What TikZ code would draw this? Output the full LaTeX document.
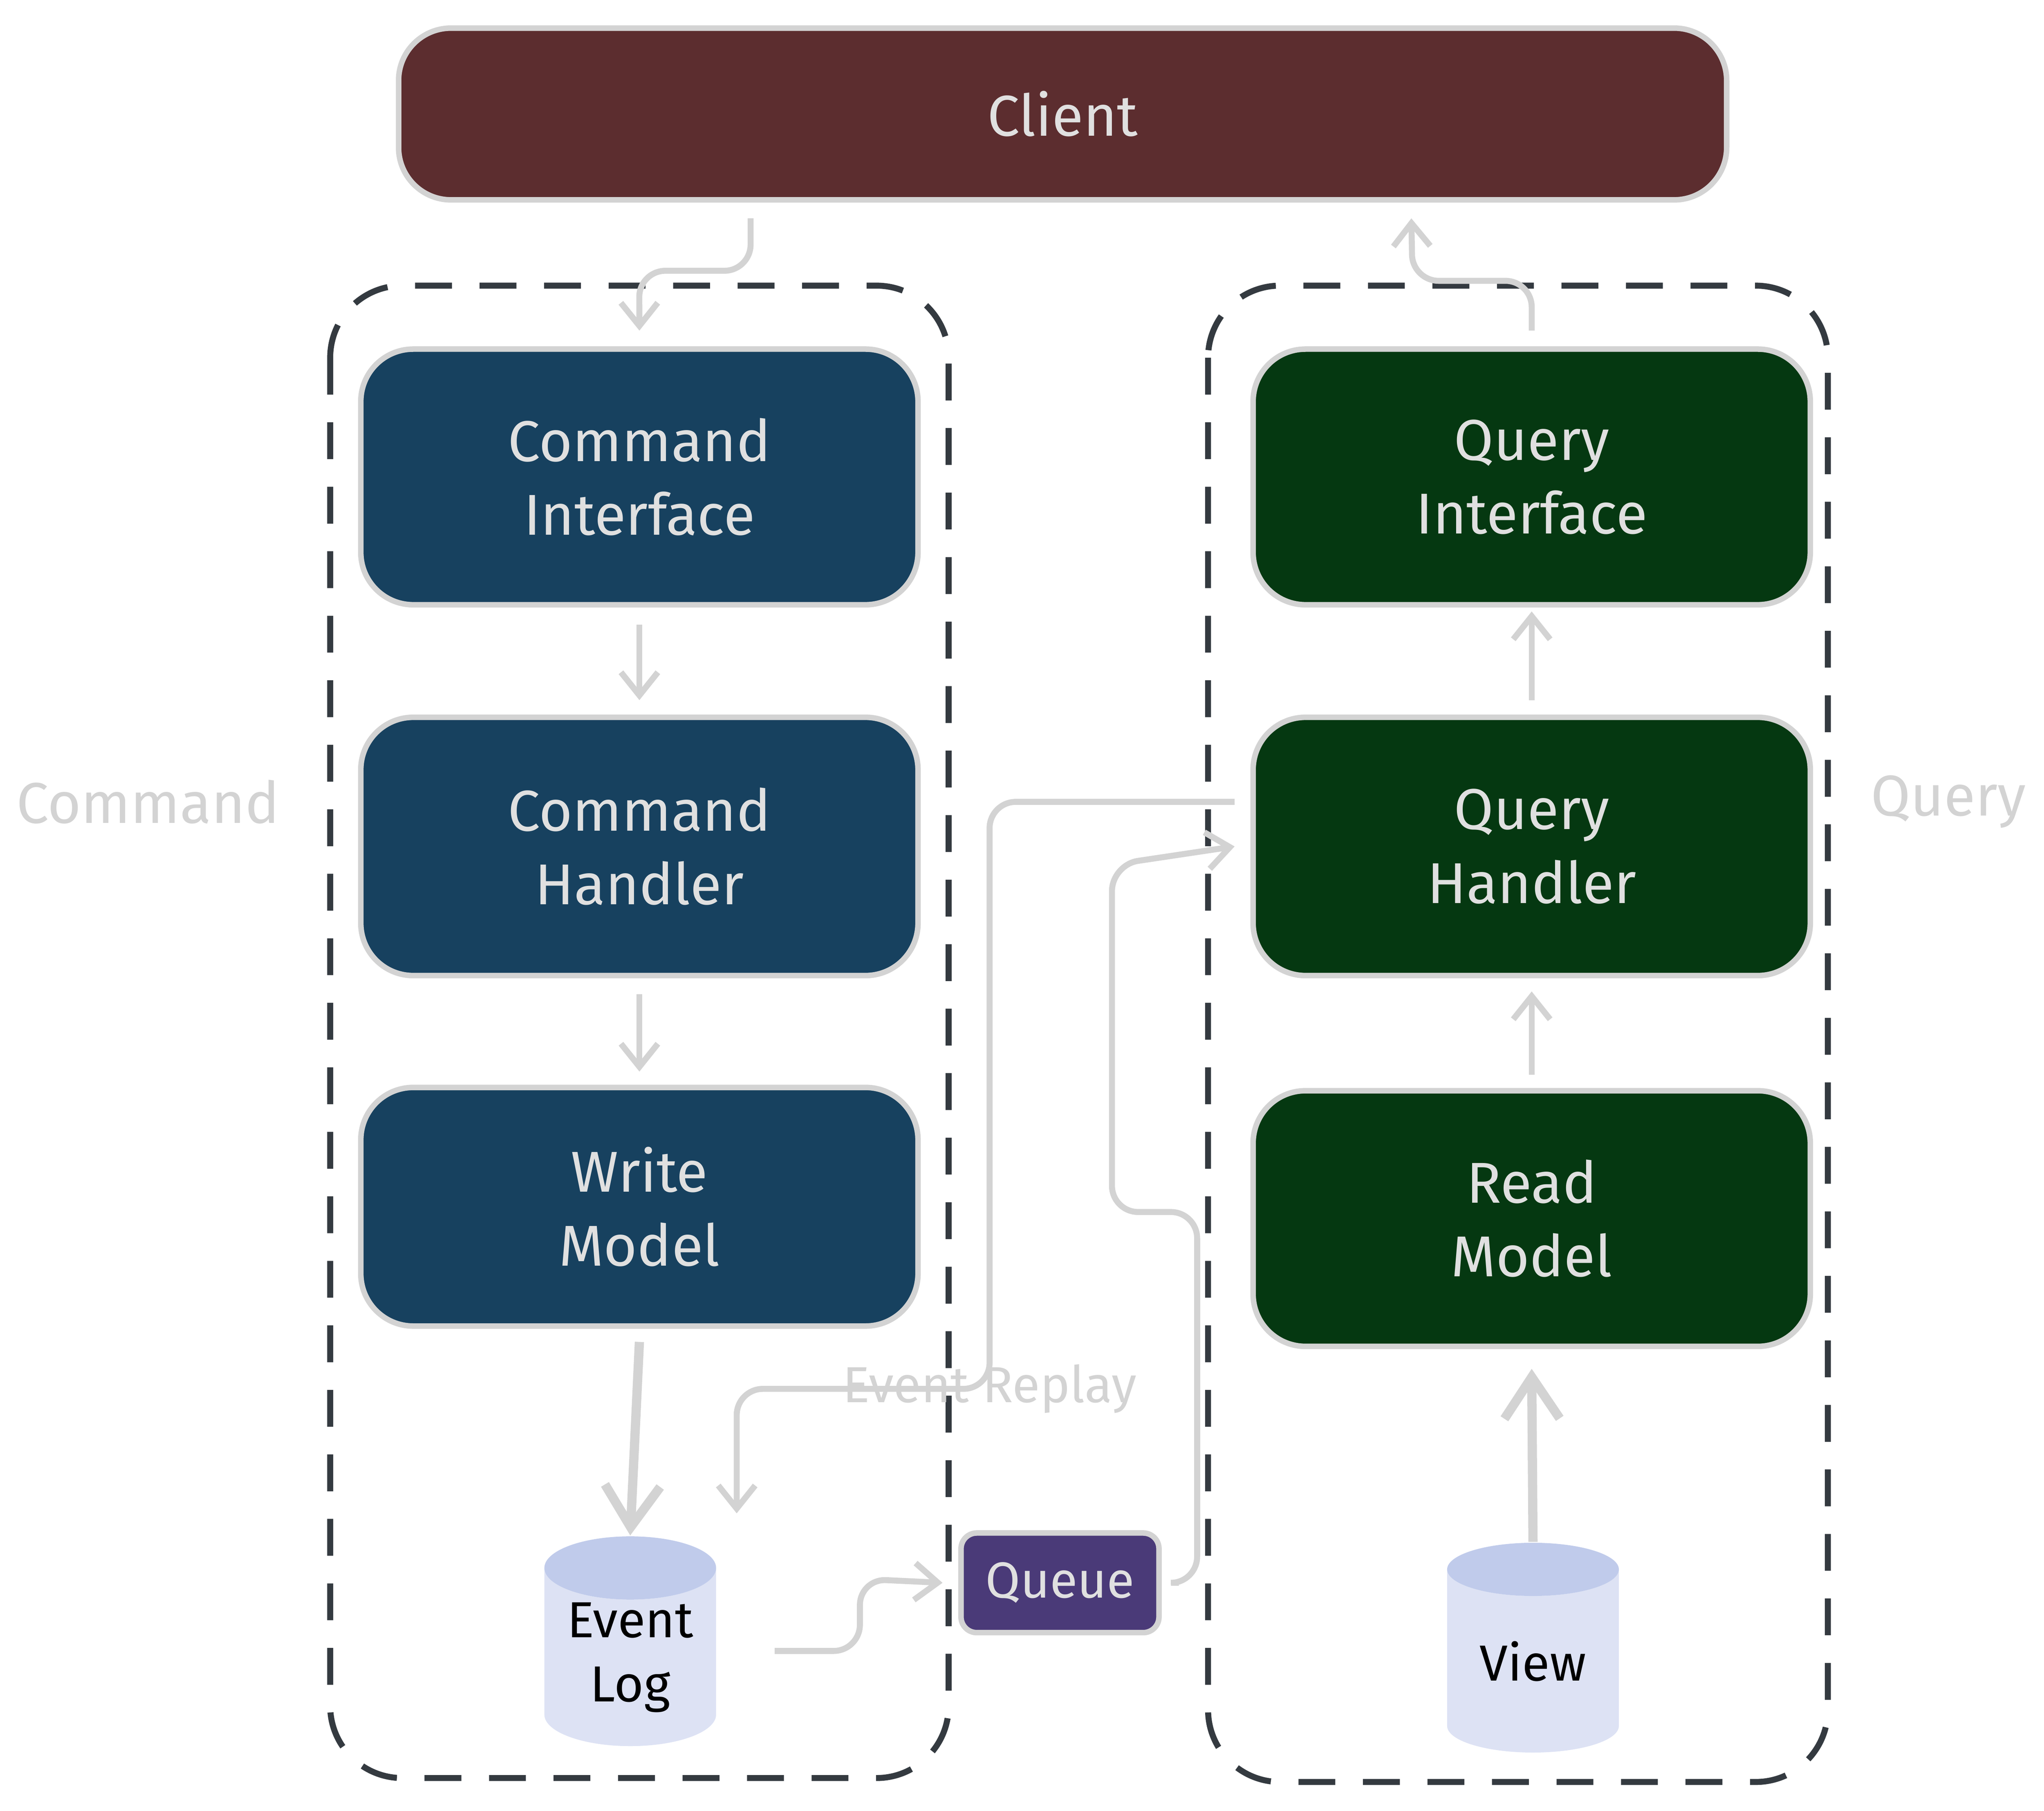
\documentclass[tikz,border=0pt]{standalone}
\usepackage{fontspec}
\setmainfont{Fira Sans}
\usetikzlibrary{shapes.geometric,arrows.meta,positioning}
\definecolor{clientc}{HTML}{5C2D2F}
\definecolor{cmdc}{HTML}{17415F}
\definecolor{qryc}{HTML}{053811}
\definecolor{queuec}{HTML}{4A3A78}
\definecolor{edgec}{HTML}{D3D3D3}
\definecolor{cyltop}{HTML}{C0CBEB}
\definecolor{cylbody}{HTML}{DDE2F4}
\definecolor{dashc}{HTML}{343A40}
\begin{document}
\begin{tikzpicture}[x=0.01cm,y=-0.01cm,
    box/.style={draw=edgec,line width=1.2pt,rounded corners=0.4cm,minimum width=4.25cm,minimum height=1.95cm,align=center,text=white!88!black,font=\fontsize{12.5}{16}\selectfont},
    group/.style={draw=dashc,line width=1.3pt,dash pattern=on 8pt off 6pt,rounded corners=0.55cm},
    flow/.style={draw=edgec,line width=1.3pt,-{Straight Barb[length=5pt,width=8pt]},rounded corners=0.2cm},
    store/.style={cylinder,shape border rotate=90,aspect=0.5,draw=none,inner sep=0pt,cylinder uses custom fill,cylinder body fill=cylbody,cylinder end fill=cyltop,minimum width=1.31cm,minimum height=1.6cm,align=center,font=\fontsize{11}{14}\selectfont},
    side/.style={text=edgec,font=\fontsize{12.5}{16}\selectfont}]
  \useasboundingbox (0,0) rectangle (1560,1382);
  % groups
  \draw[group] (252,218) rectangle (724,1357);
  \draw[group] (922,218) rectangle (1395,1360);
  \node[side] (cmdlab) at (113,612) {Command};
  \node[side] (qrylab) at (1487,612) {Query};
  % client
  \node[box,fill=clientc,minimum width=10.13cm,minimum height=1.31cm] (client) at (811,87) {Client};
  % command side
  \node[box,fill=cmdc] (ci) at (488,364) {Command\\Interface};
  \node[box,fill=cmdc,minimum height=1.97cm] (ch) at (488,646) {Command\\Handler};
  \node[box,fill=cmdc,minimum height=1.82cm] (wm) at (488,921) {Write\\Model};
  \node[store] (log) at (481,1265) {Event\\Log};
  % query side
  \node[box,fill=qryc] (qi) at (1169,364) {Query\\Interface};
  \node[box,fill=qryc,minimum height=1.97cm] (qh) at (1169,646) {Query\\Handler};
  \node[box,fill=qryc] (rm) at (1169,930) {Read\\Model};
  \node[store] (view) at (1170,1268) {View};
  \node[box,fill=queuec,minimum width=1.51cm,minimum height=0.76cm,rounded corners=0.12cm,font=\fontsize{11}{14}\selectfont] (queue) at (809,1208) {Queue};
  % connectors
  \draw[flow] ([xshift=-2.38cm,yshift=-0.12cm]client.south) -- ++(0,40) -- ++(-85,0) -- ([yshift=0.12cm]ci.north);
  \draw[flow] ([yshift=-0.13cm]ci.south) -- ([yshift=0.11cm]ch.north);
  \draw[flow] ([yshift=-0.12cm]ch.south) -- ([yshift=0.1cm]wm.north);
  \draw[flow,line width=2pt,-{Straight Barb[length=9pt,width=12pt]}] ([yshift=-0.1cm]wm.south) -- (log.north);
  \draw[flow] ([yshift=0.11cm]qh.north) -- ([yshift=-0.03cm]qi.south);
  \draw[flow] ([yshift=0.1cm]rm.north) -- ([yshift=-0.1cm]qh.south);
  \draw[flow,line width=2pt,-{Straight Barb[length=9pt,width=12pt]}] (view.north) -- ([yshift=-0.15cm]rm.south);
  \draw[flow] ([yshift=0.12cm]qi.north) -- ++(0,-38) -- ++(-91,0) -- ([xshift=2.66cm,yshift=-0.12cm]client.south);
  \draw[flow] ([xshift=0.44cm,yshift=0.05cm]log.east) -- ++(65,0) -- ++(0,-55) -- ([xshift=-0.12cm]queue.west);
  \draw[flow] ([xshift=0.13cm]queue.east) -- ++(14,0) -- ++(0,-283) -- ++(-65,0) -- ++(0,-265) -- ([xshift=-0.12cm]qh.west);
  \draw[flow] ([xshift=-0.12cm,yshift=0.34cm]qh.west) -- ++(-187,0) -- ++(0,448)
    node[pos=1,text=edgec,font=\fontsize{11}{14}\selectfont] (replay) {Event Replay}
    -- ++(-193,0) -- ++(0,95);
\end{tikzpicture}
\end{document}
